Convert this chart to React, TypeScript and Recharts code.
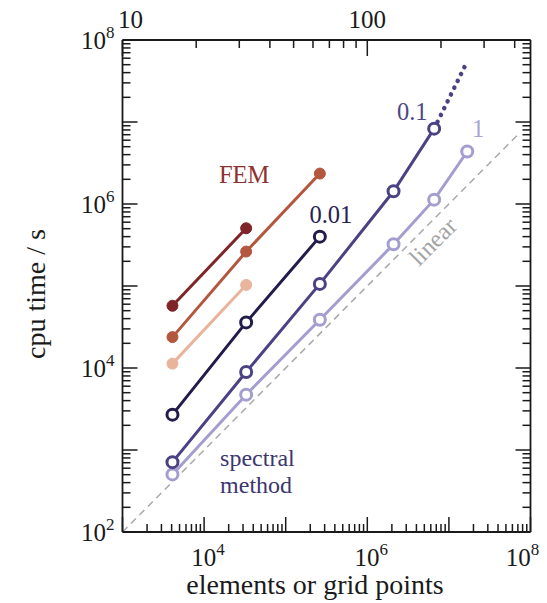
import React from 'react';
import { ComposedChart, Line, XAxis, YAxis, ReferenceDot, Customized } from 'recharts';

// ---- data: elements (x) vs cpu time in seconds (y) ----
const femFine = [
  { x: 4096, y: 57400 },
  { x: 32768, y: 506000 },
];
const femMid = [
  { x: 4096, y: 23800 },
  { x: 32768, y: 263000 },
  { x: 262144, y: 2350000 },
];
const femCoarse = [
  { x: 4096, y: 11300 },
  { x: 32768, y: 103000 },
];
const spectral001 = [
  { x: 4096, y: 2700 },
  { x: 32768, y: 36000 },
  { x: 262144, y: 400000 },
];
const spectral01 = [
  { x: 4096, y: 711 },
  { x: 32768, y: 8940 },
  { x: 262144, y: 106000 },
  { x: 2097152, y: 1430000 },
  { x: 6600000, y: 8300000 },
];
const spectral01Extrapolated = [
  { x: 6600000, y: 8300000 },
  { x: 16200000, y: 51000000 },
];
const spectral1 = [
  { x: 4096, y: 504 },
  { x: 32768, y: 4730 },
  { x: 262144, y: 38700 },
  { x: 2097152, y: 323000 },
  { x: 6600000, y: 1130000 },
  { x: 16777216, y: 4370000 },
];
const linearRef = [
  { x: 1000, y: 100 },
  { x: 70000000, y: 7000000 },
];

// annotation texts placed in data coordinates
const annotations = [
  { lines: ['FEM'], x: 30900, y: 2240000, color: '#8e3130', anchor: 'middle', angle: 0 },
  { lines: ['0.01'], x: 358000, y: 735000, color: '#26214f', anchor: 'middle', angle: 0 },
  { lines: ['0.1'], x: 3560000, y: 13300000, color: '#4d4785', anchor: 'middle', angle: 0 },
  { lines: ['1'], x: 22800000, y: 8260000, color: '#a9a3d3', anchor: 'middle', angle: 0 },
  { lines: ['linear'], x: 6400000, y: 348000, color: '#a3a3a3', anchor: 'middle', angle: -45 },
  { lines: ['spectral', 'method'], x: 15700, y: 760, color: '#3c3670', anchor: 'start', angle: 0 },
];

// axis tick values
const xDecades = [3, 8];
const yDecades = [2, 8];
const gridSizeTicks = [10, 20, 30, 40, 50, 60, 70, 80, 90, 100, 200, 300, 400];
const gridSizeLabels = [10, 100];

const logTicks = (from: number, to: number) => {
  const t: number[] = [];
  for (let e = from; e < to; e++) {
    for (let m = 1; m <= 9; m++) t.push(m * Math.pow(10, e));
  }
  t.push(Math.pow(10, to));
  return t;
};

const FONT = '"Liberation Serif", "Times New Roman", serif';
const INK = '#1a1a1a';
const TICK_FS = 25;
const SUP_FS = 17;
const NOTE_FS = 24;
const NOTE_LINE = 26.7;

const decadeOf = (v: number) => {
  const e = Math.round(Math.log10(v));
  const major = Math.abs(v / Math.pow(10, e) - 1) < 1e-9;
  return { e, major };
};

const PowerLabel = ({ x, y, e, anchor }: { x: number; y: number; e: number; anchor: string }) => (
  <text x={x} y={y} textAnchor={anchor as any} fontFamily={FONT} fontSize={TICK_FS} fill={INK}>
    <tspan>10</tspan>
    <tspan dy={-11} fontSize={SUP_FS}>{e}</tspan>
  </text>
);

const LeftTick = (props: any) => {
  const { x, y, payload } = props;
  const { e, major } = decadeOf(payload.value);
  return (
    <g>
      <line x1={x} y1={y} x2={x + (major ? 15 : 8)} y2={y} stroke={INK} strokeWidth={1.5} />
      {major && e % 2 === 0 && <PowerLabel x={x - 8} y={y + 9} e={e} anchor="end" />}
    </g>
  );
};

const RightTick = (props: any) => {
  const { x, y, payload } = props;
  const { major } = decadeOf(payload.value);
  return <line x1={x} y1={y} x2={x - (major ? 15 : 8)} y2={y} stroke={INK} strokeWidth={1.5} />;
};

const BottomTick = (props: any) => {
  const { x, y, payload } = props;
  const { e, major } = decadeOf(payload.value);
  const last = e === xDecades[1];
  return (
    <g>
      <line x1={x} y1={y} x2={x} y2={y - (major ? 15 : 8)} stroke={INK} strokeWidth={1.5} />
      {major && e % 2 === 0 && e > xDecades[0] && (
        <PowerLabel x={last ? x - 8 : x + 4} y={y + 34} e={e} anchor="middle" />
      )}
    </g>
  );
};

const TopTick = (props: any) => {
  const { x, y, payload } = props;
  const n = Math.round(Math.cbrt(payload.value));
  const labelled = gridSizeLabels.includes(n);
  return (
    <g>
      <line x1={x} y1={y} x2={x} y2={y + (labelled ? 16 : 8)} stroke={INK} strokeWidth={1.5} />
      {labelled && (
        <text
          x={n === gridSizeLabels[0] ? x + 8 : x}
          y={y - 12}
          textAnchor="middle"
          fontFamily={FONT}
          fontSize={TICK_FS}
          fill={INK}
        >
          {n}
        </text>
      )}
    </g>
  );
};

const AnnotationText = (a: (typeof annotations)[number]) => (props: any) => {
  const { cx, cy } = props;
  return (
    <text
      x={cx}
      y={cy}
      textAnchor={a.anchor as any}
      fontFamily={FONT}
      fontSize={a.lines.length > 1 ? NOTE_FS : 24.5}
      fill={a.color}
      transform={a.angle ? `rotate(${a.angle} ${cx} ${cy})` : undefined}
    >
      {a.lines.map((line, i) => (
        <tspan key={line} x={cx} dy={i === 0 ? (a.lines.length > 1 ? 6.7 : 8) : NOTE_LINE}>
          {line}
        </tspan>
      ))}
    </text>
  );
};

const AxisTitles = () => (
  <g>
    <text x={315} y={594} textAnchor="middle" fontFamily={FONT} fontSize={28} fill={INK}>
      elements or grid points
    </text>
    <text
      x={45}
      y={294}
      textAnchor="middle"
      fontFamily={FONT}
      fontSize={28}
      fill={INK}
      transform="rotate(-90 45 294)"
    >
      cpu time / s
    </text>
  </g>
);

const hollowDot = (color: string) => ({ r: 5.5, fill: '#ffffff', stroke: color, strokeWidth: 3 });
const solidDot = (color: string) => ({ r: 5.5, fill: color, stroke: color, strokeWidth: 1 });

const C = {
  femFine: '#7f2427',
  femMid: '#b4573f',
  femCoarse: '#e8b49c',
  s001: '#221c4c',
  s01: '#4a4282',
  s1: '#a49ed0',
  linear: '#a8a8a8',
};

export default function App() {
  const xTicks = logTicks(xDecades[0], xDecades[1]);
  const yTicks = logTicks(yDecades[0], yDecades[1]);
  const topTicks = gridSizeTicks.map((n) => n * n * n);
  const xDomain = [Math.pow(10, xDecades[0]), Math.pow(10, xDecades[1])];
  const yDomain = [Math.pow(10, yDecades[0]), Math.pow(10, yDecades[1])];

  return (
    <div style={{ position: 'absolute', left: 0, top: 0, width: 547, height: 603, background: '#fff' }}>
      <ComposedChart width={547} height={603} margin={{ top: 10, right: 15.5, bottom: 21, left: 62.5 }}>
        <XAxis
          xAxisId="b"
          dataKey="x"
          type="number"
          scale="log"
          domain={xDomain}
          allowDataOverflow
          ticks={xTicks}
          interval={0}
          tickSize={0}
          tickMargin={0}
          tick={BottomTick}
          axisLine={{ stroke: INK, strokeWidth: 1.8 }}
          height={50}
        />
        <XAxis
          xAxisId="t"
          orientation="top"
          dataKey="x"
          type="number"
          scale="log"
          domain={xDomain}
          allowDataOverflow
          ticks={topTicks}
          interval={0}
          tickSize={0}
          tickMargin={0}
          tick={TopTick}
          axisLine={{ stroke: INK, strokeWidth: 1.8 }}
          height={30}
        />
        <YAxis
          yAxisId="l"
          type="number"
          scale="log"
          domain={yDomain}
          allowDataOverflow
          ticks={yTicks}
          interval={0}
          tickSize={0}
          tickMargin={0}
          tick={LeftTick}
          axisLine={{ stroke: INK, strokeWidth: 1.8 }}
          width={60}
        />
        <YAxis
          yAxisId="r"
          orientation="right"
          type="number"
          scale="log"
          domain={yDomain}
          allowDataOverflow
          ticks={yTicks}
          interval={0}
          tickSize={0}
          tickMargin={0}
          tick={RightTick}
          axisLine={{ stroke: INK, strokeWidth: 1.8 }}
          width={1}
        />

        <Line xAxisId="b" yAxisId="l" data={linearRef} dataKey="y" stroke={C.linear} strokeWidth={1.5}
          strokeDasharray="7 5" dot={false} isAnimationActive={false} />

        <Line xAxisId="b" yAxisId="l" data={femFine} dataKey="y" stroke={C.femFine} strokeWidth={3}
          dot={solidDot(C.femFine)} isAnimationActive={false} />
        <Line xAxisId="b" yAxisId="l" data={femMid} dataKey="y" stroke={C.femMid} strokeWidth={3}
          dot={solidDot(C.femMid)} isAnimationActive={false} />
        <Line xAxisId="b" yAxisId="l" data={femCoarse} dataKey="y" stroke={C.femCoarse} strokeWidth={3}
          dot={solidDot(C.femCoarse)} isAnimationActive={false} />

        <Line xAxisId="b" yAxisId="l" data={spectral1} dataKey="y" stroke={C.s1} strokeWidth={3}
          dot={hollowDot(C.s1)} isAnimationActive={false} />
        <Line xAxisId="b" yAxisId="l" data={spectral01Extrapolated} dataKey="y" stroke={C.s01} strokeWidth={4.5}
          strokeDasharray="0.1 7.5" strokeLinecap="round" dot={false} isAnimationActive={false} />
        <Line xAxisId="b" yAxisId="l" data={spectral01} dataKey="y" stroke={C.s01} strokeWidth={3}
          dot={hollowDot(C.s01)} isAnimationActive={false} />
        <Line xAxisId="b" yAxisId="l" data={spectral001} dataKey="y" stroke={C.s001} strokeWidth={3}
          dot={hollowDot(C.s001)} isAnimationActive={false} />

        {annotations.map((a) => (
          <ReferenceDot
            key={a.lines[0]}
            xAxisId="b"
            yAxisId="l"
            x={a.x}
            y={a.y}
            r={0}
            ifOverflow="visible"
            shape={AnnotationText(a)}
          />
        ))}

        <Customized component={AxisTitles} />
      </ComposedChart>
    </div>
  );
}
